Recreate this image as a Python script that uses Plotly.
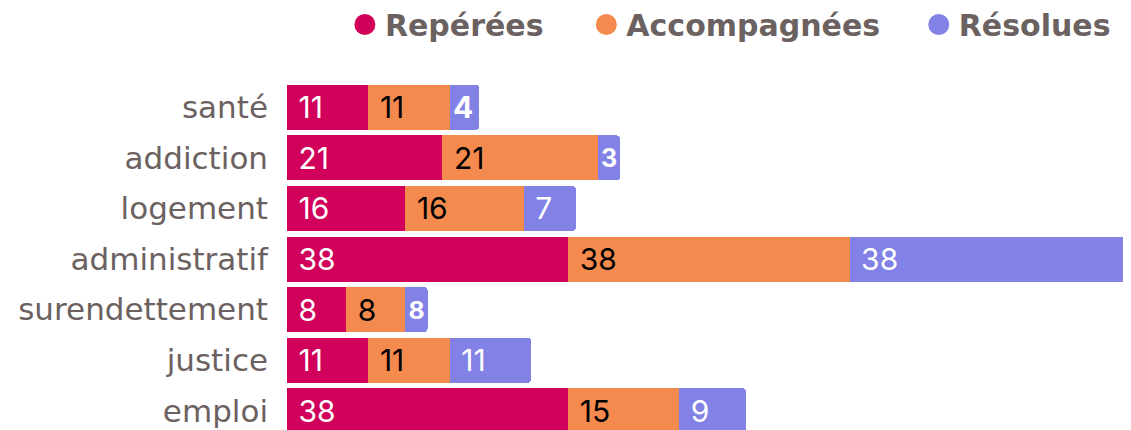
import plotly.graph_objects as go

categories = ["santé", "addiction", "logement", "administratif", "surendettement", "justice", "emploi"]
reperees = [11, 21, 16, 38, 8, 11, 38]
accompagnees = [11, 21, 16, 38, 8, 11, 15]
resolues = [4, 3, 7, 38, 3, 11, 9]
resolues_labels = ["4", "3", "7", "38", "8", "11", "9"]

series_names = ["Repérées", "Accompagnées", "Résolues"]
colors = ["#D1005A", "#F58A4F", "#8181E6"]
text_colors = ["white", "black", "white"]
legend_ids = ["legend", "legend2", "legend3"]
legend_x = [0.300, 0.515, 0.811]

NB = "\u00a0"


def pad(labels, values):
    return [(NB if v >= 5 else "") + str(l) for l, v in zip(labels, values)]


fig = go.Figure()
all_vals = [reperees, accompagnees, resolues]
all_labels = [[str(v) for v in reperees], [str(v) for v in accompagnees], resolues_labels]
for name, vals, labs, col, tcol in zip(series_names, all_vals, all_labels, colors, text_colors):
    fig.add_trace(go.Bar(
        y=categories, x=vals, orientation="h", name=name,
        marker=dict(color=col, line=dict(width=0)),
        text=pad(labs, vals), textposition="inside", insidetextanchor="start",
        textfont=dict(family="Inter, Roboto, sans-serif", size=30, color=tcol,
                      weight=["bold" if v < 5 else "normal" for v in vals]),
        constraintext="inside", showlegend=False, hoverinfo="skip",
    ))

for name, col, lid in zip(series_names, colors, legend_ids):
    fig.add_trace(go.Scatter(
        x=[None], y=[None], mode="markers", name=name, legend=lid,
        marker=dict(color=col, size=26, symbol="circle", line=dict(color=col, width=5)),
        showlegend=True,
    ))

legend_style = dict(orientation="h", xanchor="left", y=1.24, yanchor="top",
                    xref="container", yref="paper",
                    font=dict(family="DejaVu Sans, sans-serif", size=30,
                              weight="bold", color="#6B6161"),
                    itemsizing="trace", bgcolor="rgba(0,0,0,0)")

fig.update_layout(
    width=1123, height=422,
    barmode="stack", bargap=0.11, barcornerradius=4,
    margin=dict(l=279, r=0, t=74, b=0, autoexpand=False),
    paper_bgcolor="white", plot_bgcolor="white",
    font=dict(family="DejaVu Sans, sans-serif", color="#6B6161"),
    legend=dict(x=legend_x[0], **legend_style),
    legend2=dict(x=legend_x[1], **legend_style),
    legend3=dict(x=legend_x[2], **legend_style),
    xaxis=dict(range=[0, 114], visible=False, fixedrange=True),
    yaxis=dict(categoryorder="array", categoryarray=categories, range=[6.38, -0.5],
               showgrid=False, zeroline=False, showline=False, ticks="",
               ticklabelstandoff=18, automargin=False,
               tickfont=dict(family="DejaVu Sans, sans-serif", size=31, color="#6B6161")),
)

fig.write_html("out.html")
